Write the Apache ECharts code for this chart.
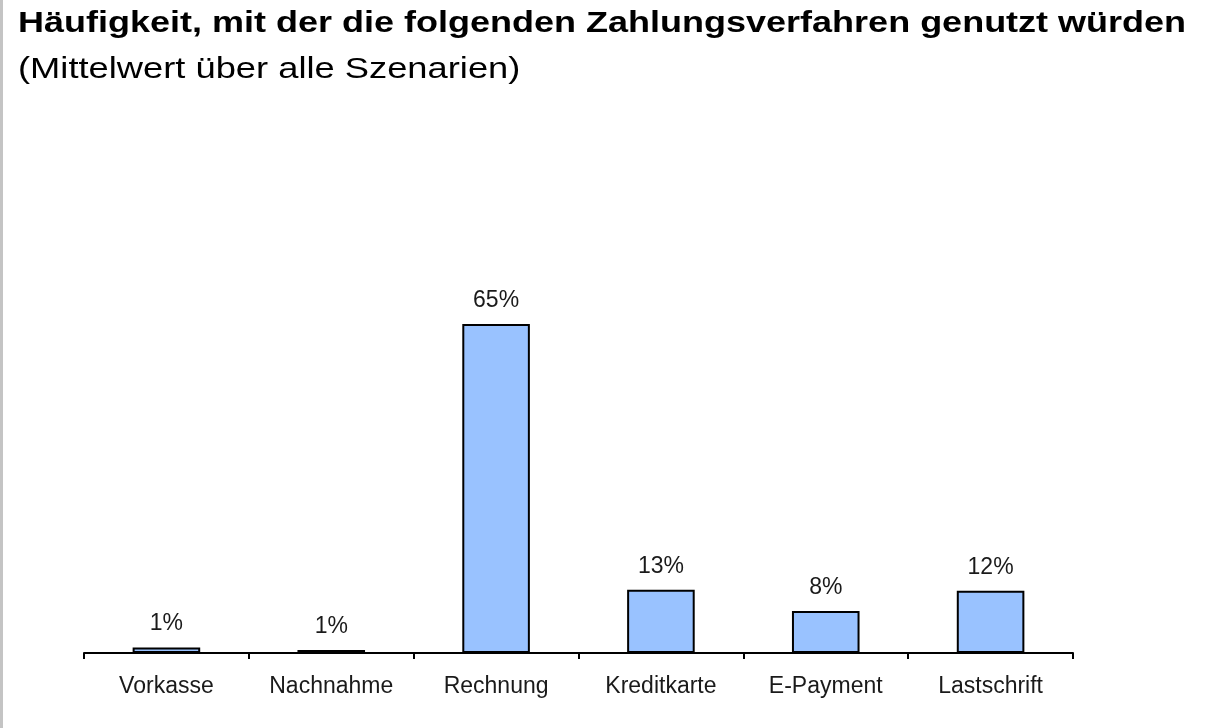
<!DOCTYPE html>
<html>
<head>
<meta charset="utf-8">
<script src="https://cdn.jsdelivr.net/npm/echarts@6/dist/echarts.min.js"></script>
<style>
  html, body { margin: 0; padding: 0; background: #fff; }
  #chart { width: 1207px; height: 728px; }
</style>
</head>
<body>
<div id="chart"></div>
<script>
// Zahlungsverfahren (Kategorien) und Mittelwerte in %
const categories = ['Vorkasse', 'Nachnahme', 'Rechnung', 'Kreditkarte', 'E-Payment', 'Lastschrift']
const values = [1.1, 0.6, 65, 12.5, 8.3, 12.3]
const labels = ['1%', '1%', '65%', '13%', '8%', '12%']

const titleText = 'Häufigkeit, mit der die folgenden Zahlungsverfahren genutzt würden'
const subtitleText = '(Mittelwert über alle Szenarien)'

const chart = echarts.init(document.getElementById('chart'))

const fontFamily = 'Liberation Sans, Arial, sans-serif'

const option = {
  animation: false,
  backgroundColor: '#fff',
  textStyle: { fontFamily },
  // Titel als graphic-Text, damit die etwas breitere Schrift des Originals passt
  graphic: [
    {
      type: 'rect',
      shape: { x: 0, y: 0, width: 3, height: 728 },
      style: { fill: '#c4c4c4' }
    },
    {
      type: 'text',
      x: 18,
      y: 24,
      scaleX: 1.2,
      style: {
        text: titleText,
        font: 'bold 30px ' + fontFamily,
        fill: '#000',
        textVerticalAlign: 'middle',
        verticalAlign: 'middle'
      }
    },
    {
      type: 'text',
      x: 18,
      y: 70,
      scaleX: 1.21,
      style: {
        text: subtitleText,
        font: '30px ' + fontFamily,
        fill: '#000',
        textVerticalAlign: 'middle',
        verticalAlign: 'middle'
      }
    }
  ],
  grid: {
    left: 84,
    right: 134,
    top: 147,
    bottom: 75
  },
  xAxis: {
    type: 'category',
    data: categories,
    axisLine: { lineStyle: { color: '#000', width: 2 } },
    axisTick: { show: true, length: 6, lineStyle: { color: '#000', width: 2 } },
    axisLabel: { color: '#1a1a1a', fontSize: 23, margin: 22 }
  },
  yAxis: {
    type: 'value',
    min: 0,
    max: 100,
    show: false,
    splitLine: { show: false }
  },
  series: [
    {
      type: 'bar',
      data: values,
      barWidth: '41%',
      itemStyle: { color: '#99C2FF', borderColor: '#000', borderWidth: 2 },
      label: {
        show: true,
        position: 'top',
        distance: 12,
        color: '#1a1a1a',
        fontSize: 23,
        formatter: (p) => labels[p.dataIndex]
      }
    }
  ]
}

chart.setOption(option)
</script>
</body>
</html>
